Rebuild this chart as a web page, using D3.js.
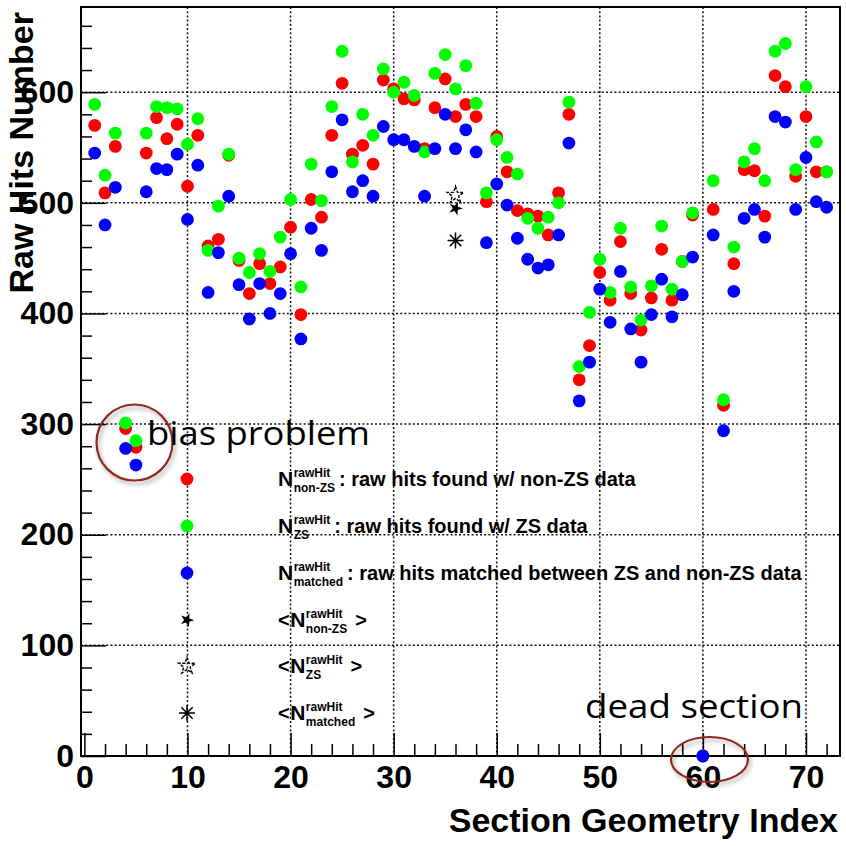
<!DOCTYPE html>
<html>
<head>
<meta charset="utf-8">
<script src="https://cdn.jsdelivr.net/npm/d3@7"></script>
<style>
  body { margin: 0; background: #fff; }
  svg { display: block; }
  text { font-family: "Liberation Sans", Arial, Helvetica, sans-serif; }
</style>
</head>
<body>
<div id="chart"></div>
<script>
// section index 1..72
const sections = d3.range(1, 73);

// raw hits found w/ non-ZS data (red)
const nonZS = [570, 509, 551, 296, 279, 545, 577, 558, 571, 515,
  561, 461, 467, 543, 448, 418, 445, 427, 442, 478,
  399, 503, 487, 561, 608, 544, 552, 535, 611, 603,
  594, 593, 549, 586, 612, 578, 589, 578, 501, 560,
  528, 493, 490, 488, 471, 509, 580, 340, 371, 437,
  412, 465, 418, 385, 414, 458, 412, 447, 489, 0,
  494, 317, 445, 530, 529, 488, 615, 605, 524, 578,
  528, 528];

// raw hits found w/ ZS data (green)
const zsHits = [589, 525, 563, 301, 285, 563, 587, 586, 585, 553,
  576, 457, 497, 544, 450, 437, 454, 438, 469, 503,
  424, 535, 502, 587, 637, 537, 580, 561, 621, 600,
  609, 597, 546, 617, 634, 603, 624, 590, 509, 557,
  541, 526, 486, 477, 487, 500, 591, 352, 401, 449,
  419, 477, 424, 394, 425, 479, 422, 447, 491, 0,
  520, 322, 460, 537, 549, 520, 637, 644, 530, 605,
  555, 528];

// raw hits matched between ZS and non-ZS data (blue)
const matched = [545, 480, 514, 278, 263, 510, 531, 530, 544, 485,
  534, 419, 455, 506, 426, 395, 427, 400, 418, 454,
  377, 477, 457, 528, 575, 510, 520, 506, 569, 557,
  557, 551, 506, 549, 580, 549, 566, 546, 464, 517,
  498, 468, 449, 441, 444, 471, 554, 321, 356, 422,
  392, 438, 386, 356, 399, 431, 397, 417, 451, 0,
  471, 294, 420, 486, 494, 469, 578, 573, 494, 541,
  501, 496];

// mean values, drawn at section 36
const meanSection = 36;
const meanNonZS = 495, meanZS = 507, meanMatched = 466;

const xTicks = [0, 10, 20, 30, 40, 50, 60, 70];
const yTicks = [0, 100, 200, 300, 400, 500, 600];

// frame of the pad
const width = 846, height = 846;
const frame = { left: 81, right: 840, top: 7, bottom: 756 };

const svg = d3.select("#chart")
  .append("svg")
  .attr("width", width)
  .attr("height", height);

const defs = svg.append("defs");
defs.append("filter").attr("id", "soft")
  .append("feGaussianBlur").attr("stdDeviation", 0.55);
defs.append("filter").attr("id", "shadow")
  .attr("x", "-30%").attr("y", "-30%").attr("width", "160%").attr("height", "160%")
  .append("feDropShadow")
  .attr("dx", 2).attr("dy", 3).attr("stdDeviation", 2)
  .attr("flood-color", "#000").attr("flood-opacity", 0.35);

const x = d3.scaleLinear().domain([-0.33, 73.3]).range([frame.left, frame.right]);
const y = d3.scaleLinear().domain([0, 677]).range([frame.bottom, frame.top]);

// dotted grid, one path per line
const gridX = xTicks.filter(d => d > 0);
const gridY = yTicks.filter(d => d > 0);
const grid = svg.append("g").attr("class", "grid");
grid.selectAll("path.gx")
  .data(gridX)
  .join("path")
  .attr("class", "gx")
  .attr("d", d => `M${x(d)},${frame.top}V${frame.bottom}`);
grid.selectAll("path.gy")
  .data(gridY)
  .join("path")
  .attr("class", "gy")
  .attr("d", d => `M${frame.left},${y(d)}H${frame.right}`);
grid.selectAll("path")
  .style("fill", "none")
  .style("stroke", "#111")
  .style("stroke-width", "1.5px")
  .style("stroke-dasharray", "2,2.2");

// axes with inward ticks (ROOT style)
const xMinor = d3.range(0, 73, 2).filter(d => d % 10 !== 0);
const yMinor = d3.range(0, 677, 20).filter(d => d % 100 !== 0);

svg.append("g")
  .attr("transform", `translate(0,${frame.bottom})`)
  .call(d3.axisBottom(x).tickValues(xMinor).tickSize(-12).tickFormat(""))
  .call(g => g.select(".domain").remove());

svg.append("g")
  .attr("class", "x-axis")
  .attr("transform", `translate(0,${frame.bottom})`)
  .call(d3.axisBottom(x).tickValues(xTicks).tickSizeInner(-23).tickSizeOuter(0).tickPadding(9))
  .call(g => g.select(".domain").remove());

svg.append("g")
  .attr("transform", `translate(${frame.left},0)`)
  .call(d3.axisLeft(y).tickValues(yMinor).tickSize(-11).tickFormat(""))
  .call(g => g.select(".domain").remove());

svg.append("g")
  .attr("class", "y-axis")
  .attr("transform", `translate(${frame.left},0)`)
  .call(d3.axisLeft(y).tickValues(yTicks).tickSizeInner(-25).tickSizeOuter(0).tickPadding(7))
  .call(g => g.select(".domain").remove());

svg.selectAll(".tick line").attr("stroke", "#000").attr("stroke-width", 1.5);
svg.selectAll(".x-axis text, .y-axis text")
  .attr("fill", "#000")
  .style("font-size", "32px")
  .style("font-weight", "bold")
  .style("font-family", "'Liberation Sans', Arial, sans-serif");

// frame
svg.append("rect")
  .attr("x", frame.left).attr("y", frame.top)
  .attr("width", frame.right - frame.left)
  .attr("height", frame.bottom - frame.top)
  .attr("fill", "none")
  .attr("stroke", "#000")
  .attr("stroke-width", 2);

// axis titles
svg.append("text")
  .attr("x", 838).attr("y", 832)
  .attr("text-anchor", "end")
  .style("font-size", "34px").style("font-weight", "bold")
  .text("Section Geometry Index");

svg.append("text")
  .attr("transform", "translate(33,12) rotate(-90)")
  .attr("text-anchor", "end")
  .style("font-size", "34px").style("font-weight", "bold")
  .text("Raw Hits Number");

// data points: red, then green, then blue on top
const series = [
  { values: nonZS, color: "#ff0000" },
  { values: zsHits, color: "#00ff00" },
  { values: matched, color: "#0000ff" }
];
const pts = svg.append("g").attr("filter", "url(#soft)");
series.forEach(s => {
  pts.append("g")
    .selectAll("circle")
    .data(sections)
    .join("circle")
    .attr("cx", d => x(d))
    .attr("cy", (d, i) => y(s.values[i]))
    .attr("r", 6.4)
    .attr("fill", s.color);
});

// marker shapes for the means
const starFull = d3.symbol().type(d3.symbolStar).size(60);
const starOpen = d3.symbol().type(d3.symbolStar).size(85);
function asterisk(r) {
  const a = r * Math.SQRT1_2;
  return `M${-r},0L${r},0M0,${-r}L0,${r}M${-a},${-a}L${a},${a}M${-a},${a}L${a},${-a}`;
}
function drawMean(g, kind, cx, cy) {
  if (kind === "full") {
    g.append("path").attr("d", starFull()).attr("transform", `translate(${cx},${cy}) rotate(20)`).attr("fill", "#000");
  } else if (kind === "open") {
    g.append("path").attr("d", starOpen()).attr("transform", `translate(${cx},${cy})`)
      .attr("fill", "none").attr("stroke", "#000").attr("stroke-width", 1.4)
      .attr("stroke-dasharray", "3,1.5");
  } else {
    g.append("path").attr("d", asterisk(8)).attr("transform", `translate(${cx},${cy})`)
      .attr("fill", "none").attr("stroke", "#000").attr("stroke-width", 1.5);
  }
}
const means = svg.append("g");
drawMean(means, "open", x(meanSection), y(meanZS));
drawMean(means, "full", x(meanSection), y(meanNonZS));
drawMean(means, "star", x(meanSection), y(meanMatched));

// legend
const legend = svg.append("g");
const legendRows = [
  { y: 479, marker: "#ff0000", sub: "non-ZS", rest: ": raw hits found w/ non-ZS data" },
  { y: 526, marker: "#00ff00", sub: "ZS", rest: ": raw hits found w/ ZS data" },
  { y: 573, marker: "#0000ff", sub: "matched", rest: ": raw hits matched between ZS and non-ZS data" },
  { y: 620, marker: "full", sub: "non-ZS", bracket: true },
  { y: 666, marker: "open", sub: "ZS", bracket: true },
  { y: 713, marker: "star", sub: "matched", bracket: true }
];

function addText(g, tx, ty, str, size) {
  return g.append("text")
    .attr("x", tx).attr("y", ty)
    .style("font-size", size + "px").style("font-weight", "bold")
    .text(str);
}

legendRows.forEach(r => {
  const mx = 187, base = r.y + 7;
  if (r.marker.startsWith("#")) {
    legend.append("circle").attr("cx", mx).attr("cy", r.y).attr("r", 6.4)
      .attr("fill", r.marker).attr("filter", "url(#soft)");
  } else {
    drawMean(legend, r.marker, mx, r.y);
  }
  let cx = 278;
  if (r.bracket) {
    const lt = addText(legend, cx, base, "<", 20);
    cx += lt.node().getComputedTextLength() + 0.5;
  }
  const n = addText(legend, cx, base, "N", 21);
  cx += n.node().getComputedTextLength() + 0.5;
  const sup = addText(legend, cx, base - 9, "rawHit", 12);
  const sub = addText(legend, cx, base + 6, r.sub, 12);
  const end = cx + Math.max(sup.node().getComputedTextLength(), sub.node().getComputedTextLength());
  if (r.bracket) addText(legend, end + 8, base, ">", 20);
  else addText(legend, end + 4, base, r.rest, 20);
});

// annotations
const note = svg.append("g");
note.append("circle")
  .attr("cx", 134.5).attr("cy", 442.5).attr("r", 38)
  .attr("fill", "none").attr("stroke", "#8e2a1e").attr("stroke-width", 2.2)
  .attr("filter", "url(#shadow)");
note.append("ellipse")
  .attr("cx", 709.5).attr("cy", 759.5).attr("rx", 38.5).attr("ry", 22.5)
  .attr("fill", "none").attr("stroke", "#8e2a1e").attr("stroke-width", 2.2)
  .attr("filter", "url(#shadow)");

note.append("text")
  .attr("x", 147).attr("y", 445)
  .attr("textLength", 223).attr("lengthAdjust", "spacingAndGlyphs")
  .style("font-family", "'Open Sans', 'Noto Sans', sans-serif")
  .style("font-size", "33px")
  .text("bias problem");
note.append("text")
  .attr("x", 585).attr("y", 718)
  .attr("textLength", 218).attr("lengthAdjust", "spacingAndGlyphs")
  .style("font-family", "'Open Sans', 'Noto Sans', sans-serif")
  .style("font-size", "33px")
  .text("dead section");
</script>
</body>
</html>
